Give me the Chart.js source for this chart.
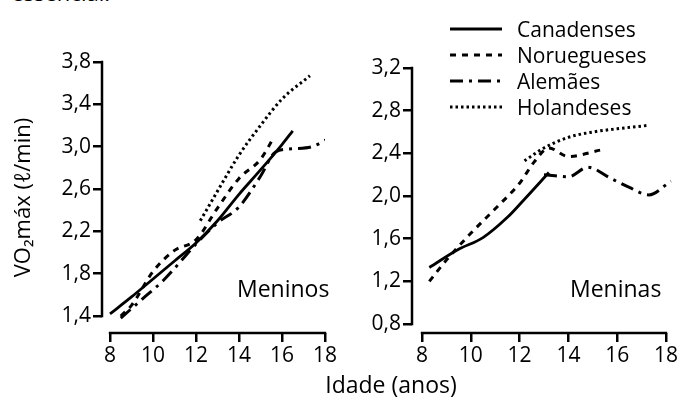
<!DOCTYPE html>
<html lang="pt">
<head>
<meta charset="utf-8">
<title>VO2 máx por idade</title>
<script src="https://cdn.jsdelivr.net/npm/chart.js@4.4.1/dist/chart.umd.min.js"></script>
<style>
  body { margin: 0; background: #fff; font-family: 'Open Sans', sans-serif; color: #000; }
  #wrap { position: relative; width: 682px; height: 410px; overflow: hidden; }
  canvas { position: absolute; top: 0; }
  #graficoMeninos { left: 0; }
  #graficoMeninas { left: 340px; }
  .texto { position: absolute; white-space: nowrap; }
  #topo { right: 572px; top: -19px; font-size: 22px; line-height: 22px; }
  #meninos { left: 237px; top: 277px; font-size: 23px; line-height: 23px; }
  #meninas { left: 570px; top: 277px; font-size: 23px; line-height: 23px; }
  #eixoX { left: 0; width: 782px; text-align: center; top: 371px; font-size: 23px; line-height: 26px; }
  #legenda { position: absolute; left: 450px; top: 16px; }
  .linha { display: flex; align-items: center; height: 26px; font-size: 21px; line-height: 26px; }
  .linha svg { width: 52px; height: 10px; margin-right: 15px; }
</style>
</head>
<body>
<div id="wrap">
  <div class="texto" id="topo">essencial.</div>
  <canvas id="graficoMeninos" width="340" height="410"></canvas>
  <canvas id="graficoMeninas" width="342" height="410"></canvas>
  <div class="texto" id="meninos">Meninos</div>
  <div class="texto" id="meninas">Meninas</div>
  <div class="texto" id="eixoX">Idade (anos)</div>
  <div id="legenda"></div>
</div>
<script>
// Séries (nomes)
const paises = ['Canadenses', 'Noruegueses', 'Alemães', 'Holandeses'];

// Eixos
const idadeTicks = [8, 10, 12, 14, 16, 18];
const vo2TicksMeninos = [1.4, 1.8, 2.2, 2.6, 3.0, 3.4, 3.8];
const vo2TicksMeninas = [0.8, 1.2, 1.6, 2.0, 2.4, 2.8, 3.2];

// Meninos
const canadensesMeninosIdade = [8, 9, 10, 11, 12, 13, 14, 15, 16, 16.5];
const canadensesMeninosVO2 = [1.42, 1.58, 1.75, 1.92, 2.09, 2.30, 2.55, 2.78, 3.02, 3.15];
const norueguesesMeninosIdade = [8.5, 9, 10, 11, 12, 13, 14, 15, 15.6];
const norueguesesMeninosVO2 = [1.40, 1.50, 1.82, 2.02, 2.12, 2.42, 2.70, 2.88, 3.08];
const alemaesMeninosIdade = [8.5, 9.5, 10.5, 12, 13, 14, 15, 15.7, 16.5, 17.4, 18.2];
const alemaesMeninosVO2 = [1.38, 1.56, 1.74, 2.08, 2.28, 2.43, 2.72, 2.95, 2.98, 3.00, 3.08];
const holandesesMeninosIdade = [12.2, 13, 14, 15, 16, 17.3];
const holandesesMeninosVO2 = [2.30, 2.58, 2.92, 3.20, 3.45, 3.67];

// Meninas
const canadensesMeninasIdade = [8.3, 9.5, 10.5, 11.5, 12.2, 13.2];
const canadensesMeninasVO2 = [1.33, 1.50, 1.61, 1.80, 1.97, 2.22];
const norueguesesMeninasIdade = [8.3, 9, 10, 11, 12, 12.6, 13.2, 14, 15.3];
const norueguesesMeninasVO2 = [1.20, 1.40, 1.65, 1.88, 2.12, 2.32, 2.45, 2.37, 2.43];
const alemaesMeninasIdade = [13.0, 14, 14.8, 15.7, 16.5, 17.3, 18.2];
const alemaesMeninasVO2 = [2.20, 2.18, 2.27, 2.17, 2.08, 2.01, 2.14];
const holandesesMeninasIdade = [12.2, 13, 14, 15, 16, 17.2];
const holandesesMeninasVO2 = [2.33, 2.45, 2.55, 2.60, 2.63, 2.66];

// estilo de linha de cada país
const tracos = [[], [6, 6], [13, 6, 3, 6], [2.5, 3]];
const espessuras = [2.8, 3, 3, 3];

function pontos(idades, valores) {
    return idades.map((idade, i) => ({ x: idade, y: valores[i] }));
}

function montarDatasets(series) {
    return series.map((s, i) => ({
        label: paises[i],
        data: pontos(s[0], s[1]),
        borderColor: '#000',
        borderWidth: espessuras[i],
        borderDash: tracos[i],
        borderCapStyle: 'butt',
        pointRadius: 0,
        fill: false,
        tension: 0.4,
        cubicInterpolationMode: 'monotone'
    }));
}

// eixos separados (estilo livro)
const eixosSeparados = {
    id: 'eixosSeparados',
    afterDraw(chart) {
        const { ctx, chartArea } = chart;
        const x = chart.scales.x;
        const y = chart.scales.y;
        ctx.save();
        ctx.strokeStyle = '#000';
        ctx.lineWidth = 2.5;
        ctx.beginPath();
        ctx.moveTo(chartArea.left, y.getPixelForValue(y.ticks[0].value) + 1.2);
        ctx.lineTo(chartArea.left, y.getPixelForValue(y.ticks[y.ticks.length - 1].value) - 1.2);
        ctx.moveTo(x.getPixelForValue(x.ticks[0].value) - 1.2, chartArea.bottom);
        ctx.lineTo(x.getPixelForValue(x.ticks[x.ticks.length - 1].value) + 1.2, chartArea.bottom);
        ctx.stroke();
        ctx.restore();
    }
};

function criarGrafico(id, series, cfg) {
    const fonte = { family: "'Open Sans', sans-serif", size: 21 };
    return new Chart(document.getElementById(id), {
        type: 'line',
        data: { datasets: montarDatasets(series) },
        options: {
            responsive: false,
            animation: false,
            layout: { padding: cfg.padding },
            plugins: { legend: { display: false }, tooltip: { enabled: false } },
            scales: {
                x: {
                    type: 'linear',
                    min: cfg.xMin,
                    max: cfg.xMax,
                    afterBuildTicks: s => { s.ticks = idadeTicks.map(v => ({ value: v })); },
                    afterFit: s => { s.height = 77; },
                    border: { display: false },
                    grid: { drawOnChartArea: false, tickLength: 9, lineWidth: 2.5, color: '#000' },
                    ticks: { color: '#000', font: fonte, padding: 1, maxRotation: 0, callback: v => v }
                },
                y: {
                    min: cfg.yMin,
                    max: cfg.yMax,
                    afterBuildTicks: s => { s.ticks = cfg.yTicks.map(v => ({ value: v })); },
                    afterFit: s => { s.width = cfg.yWidth; },
                    border: { display: false },
                    grid: { drawOnChartArea: false, tickLength: 9, lineWidth: 2.5, color: '#000' },
                    ticks: { color: '#000', font: fonte, padding: 2, callback: v => v.toFixed(1).replace('.', ',') },
                    title: {
                        display: !!cfg.yTitle,
                        text: cfg.yTitle,
                        color: '#000',
                        font: { family: "'Open Sans', sans-serif", size: 22 },
                        padding: { top: 11, bottom: 0 }
                    }
                }
            }
        },
        plugins: [eixosSeparados]
    });
}

criarGrafico('graficoMeninos', [
    [canadensesMeninosIdade, canadensesMeninosVO2],
    [norueguesesMeninosIdade, norueguesesMeninosVO2],
    [alemaesMeninosIdade, alemaesMeninosVO2],
    [holandesesMeninosIdade, holandesesMeninosVO2]
], {
    padding: { top: 62, right: 15, left: 0, bottom: 0 },
    xMin: 7.628, xMax: 18,
    yMin: 1.2394, yMax: 3.8,
    yTicks: vo2TicksMeninos,
    yWidth: 102,
    yTitle: 'VO₂máx (ℓ/min)'
});

criarGrafico('graficoMeninas', [
    [canadensesMeninasIdade, canadensesMeninasVO2],
    [norueguesesMeninasIdade, norueguesesMeninasVO2],
    [alemaesMeninasIdade, alemaesMeninasVO2],
    [holandesesMeninasIdade, holandesesMeninasVO2]
], {
    padding: { top: 68, right: 8.7, left: 0, bottom: 0 },
    xMin: 7.59, xMax: 18.3,
    yMin: 0.7156, yMax: 3.2,
    yTicks: vo2TicksMeninas,
    yWidth: 72,
    yTitle: ''
});

// Legenda
const legenda = document.getElementById('legenda');
paises.forEach((nome, i) => {
    const linha = document.createElement('div');
    linha.className = 'linha';
    const dash = tracos[i].length ? `stroke-dasharray="${tracos[i].join(' ')}"` : '';
    linha.innerHTML = `<svg viewBox="0 0 52 10"><line x1="0" y1="5" x2="52" y2="5" stroke="#000" stroke-width="${espessuras[i]}" ${dash}/></svg><span>${nome}</span>`;
    legenda.appendChild(linha);
});
</script>
</body>
</html>
